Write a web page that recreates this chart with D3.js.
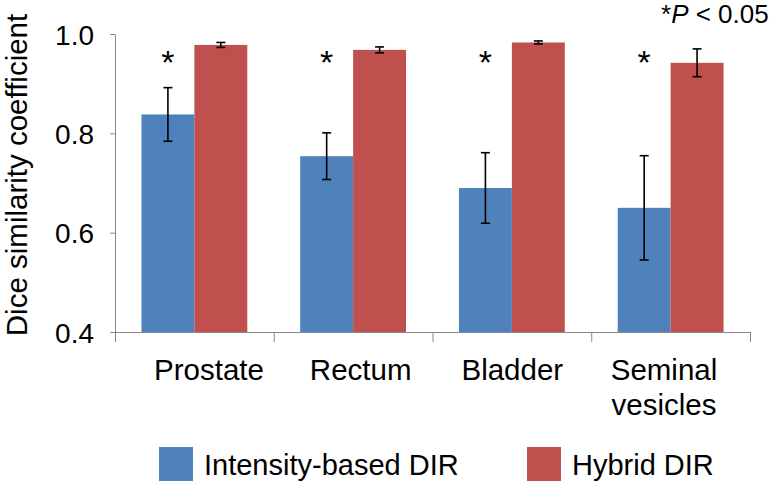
<!DOCTYPE html>
<html>
<head>
<meta charset="utf-8">
<script src="https://cdn.jsdelivr.net/npm/d3@7"></script>
<style>
  html, body { margin: 0; padding: 0; background: #fff; }
  svg { display: block; font-family: "Liberation Sans", Arial, Helvetica, sans-serif; }
</style>
</head>
<body>
<svg id="chart" width="780" height="484"></svg>
<script>
// ---- data ----
const categories = ["Prostate", "Rectum", "Bladder", "Seminal vesicles"];
const categoryLines = [["Prostate"], ["Rectum"], ["Bladder"], ["Seminal", "vesicles"]];
const seriesNames = ["Intensity-based DIR", "Hybrid DIR"];
const intensityValues = [0.838, 0.754, 0.690, 0.650];
const intensityErrors = [0.054, 0.047, 0.071, 0.105];
const hybridValues = [0.978, 0.968, 0.983, 0.942];
const hybridErrors = [0.005, 0.006, 0.003, 0.028];
const significant = [true, true, true, true];
const yTicks = [0.4, 0.6, 0.8, 1.0];
const yTitle = "Dice similarity coefficient";
const colors = ["#4F81BD", "#C0504D"];

const svg = d3.select("#chart");
const axisColor = "#868686";

const plot = { left: 115, right: 750, top: 34, bottom: 332 };

const x = d3.scaleBand().domain(categories).range([plot.left, plot.right]).padding(0);
const xs = d3.scaleBand().domain(seriesNames).range([0, x.bandwidth()]).paddingInner(0).paddingOuter(0.5);
const y = d3.scaleLinear().domain([0.4, 1.0]).range([plot.bottom, plot.top]);

const rows = categories.map((c, i) => ({
  cat: c,
  vals: [
    { s: seriesNames[0], v: intensityValues[i], e: intensityErrors[i], col: colors[0] },
    { s: seriesNames[1], v: hybridValues[i], e: hybridErrors[i], col: colors[1] }
  ]
}));

// bars
const g = svg.selectAll("g.cat").data(rows).join("g")
  .attr("class", "cat")
  .attr("transform", d => `translate(${x(d.cat)},0)`);

g.selectAll("rect").data(d => d.vals).join("rect")
  .attr("x", d => xs(d.s))
  .attr("y", d => y(d.v))
  .attr("width", xs.bandwidth())
  .attr("height", d => y(0.4) - y(d.v))
  .attr("fill", d => d.col);

// error bars
const cap = 4.5;
const eb = g.selectAll("g.err").data(d => d.vals).join("g").attr("class", "err")
  .attr("stroke", "#000").attr("stroke-width", 1.6);
eb.append("line")
  .attr("x1", d => xs(d.s) + xs.bandwidth() / 2).attr("x2", d => xs(d.s) + xs.bandwidth() / 2)
  .attr("y1", d => y(d.v + d.e)).attr("y2", d => y(d.v - d.e));
eb.append("line")
  .attr("x1", d => xs(d.s) + xs.bandwidth() / 2 - cap).attr("x2", d => xs(d.s) + xs.bandwidth() / 2 + cap)
  .attr("y1", d => y(d.v + d.e)).attr("y2", d => y(d.v + d.e));
eb.append("line")
  .attr("x1", d => xs(d.s) + xs.bandwidth() / 2 - cap).attr("x2", d => xs(d.s) + xs.bandwidth() / 2 + cap)
  .attr("y1", d => y(d.v - d.e)).attr("y2", d => y(d.v - d.e));

// significance asterisks over the blue bars
g.filter((d, i) => significant[i]).append("text")
  .attr("x", xs(seriesNames[0]) + xs.bandwidth() / 2)
  .attr("y", 74)
  .attr("text-anchor", "middle")
  .attr("font-size", 34)
  .attr("fill", "#000")
  .text("*");

// y axis
const yAxis = svg.append("g")
  .attr("transform", `translate(${plot.left},0)`)
  .call(d3.axisLeft(y).tickValues(yTicks).tickFormat(d3.format(".1f")).tickSizeInner(5).tickSizeOuter(0).tickPadding(16));
yAxis.select(".domain").attr("stroke", axisColor);
yAxis.selectAll(".tick line").attr("stroke", axisColor);
yAxis.selectAll(".tick text").attr("font-size", 28).attr("fill", "#000")
  .attr("font-family", '"Liberation Sans", Arial, sans-serif').attr("dy", "0.36em");

// x axis (category boundaries)
const xb = d3.scaleLinear().domain([0, categories.length]).range([plot.left, plot.right]);
const xAxis = svg.append("g")
  .attr("transform", `translate(0,${plot.bottom})`)
  .call(d3.axisBottom(xb).tickValues(d3.range(categories.length + 1)).tickFormat("").tickSizeInner(10).tickSizeOuter(0));
xAxis.select(".domain").attr("stroke", axisColor);
xAxis.selectAll(".tick line").attr("stroke", axisColor);

// category labels
const xl = d3.scalePoint().domain(categories).range([209, 664]);
svg.append("g").selectAll("text").data(categories).join("text")
  .attr("x", d => xl(d))
  .attr("y", 380)
  .attr("text-anchor", "middle")
  .attr("font-size", 29.5)
  .attr("fill", "#000")
  .each(function (d, i) {
    const t = d3.select(this);
    categoryLines[i].forEach((ln, j) => {
      t.append("tspan").attr("x", xl(d)).attr("dy", j === 0 ? 0 : 35).text(ln);
    });
  });

// y title
svg.append("text")
  .attr("transform", `translate(27,${(plot.top + plot.bottom) / 2 - 8}) rotate(-90)`)
  .attr("text-anchor", "middle")
  .attr("font-size", 29.5)
  .attr("fill", "#000")
  .text(yTitle);

// p-value note
const note = svg.append("text").attr("x", 661).attr("y", 23).attr("font-size", 26).attr("fill", "#000");
note.append("tspan").text("*");
note.append("tspan").attr("font-style", "italic").text("P");
note.append("tspan").text(" < 0.05");

// legend
const legX = [159, 527];
const leg = svg.append("g").selectAll("g").data(seriesNames).join("g")
  .attr("transform", (d, i) => `translate(${legX[i]},447)`);
leg.append("rect").attr("width", 34).attr("height", 34).attr("fill", (d, i) => colors[i]);
leg.append("text").attr("x", 45).attr("y", 28).attr("font-size", 29).attr("fill", "#000").text(d => d);
</script>
</body>
</html>
